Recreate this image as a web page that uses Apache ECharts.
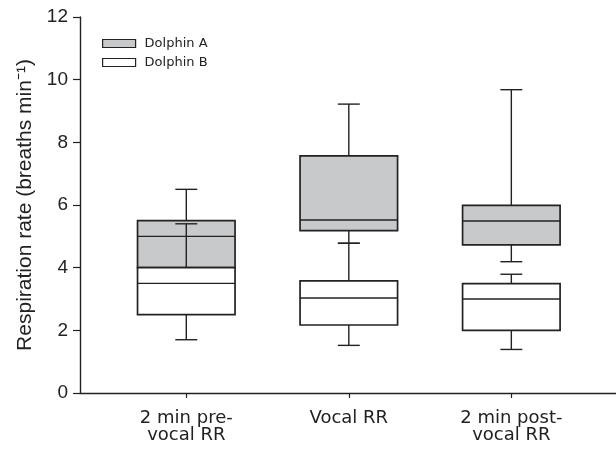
<!DOCTYPE html>
<html>
<head>
<meta charset="utf-8">
<script src="https://cdn.jsdelivr.net/npm/echarts@6/dist/echarts.min.js"></script>
<style>html,body{margin:0;padding:0;background:#fff}#c{width:616px;height:450px}</style>
</head>
<body>
<div id="c"></div>
<script>
var categories = ['2 min pre-\nvocal RR', 'Vocal RR', '2 min post-\nvocal RR'];
var categoryPositions = [1, 2, 3];
// [min, Q1, median, Q3, max]
var dolphinA = [
  [4.0, 4.0, 5.0, 5.5, 6.5],
  [4.78, 5.18, 5.52, 7.57, 9.22],
  [4.19, 4.73, 5.49, 5.99, 9.68]
];
var dolphinB = [
  [1.7, 2.5, 3.5, 4.0, 5.4],
  [1.52, 2.17, 3.03, 3.58, 4.78],
  [1.39, 2.0, 3.0, 3.49, 3.79]
];
var yTicks = [0, 2, 4, 6, 8, 10, 12];
var seriesNames = ['Dolphin A', 'Dolphin B'];

var FONT = 'Liberation Sans, Arial, sans-serif';
var WIDE = 'DejaVu Sans, Liberation Sans, sans-serif';
var INK = '#222';
var BOX_W = 0.6, CAP_W = 0.135;

function toData(arr) {
  return arr.map(function (d, i) { return [categoryPositions[i]].concat(d); });
}

function makeRender(fill) {
  return function (params, api) {
    var x = api.value(0);
    var mn = api.coord([x, api.value(1)]);
    var q1 = api.coord([x, api.value(2)]);
    var md = api.coord([x, api.value(3)]);
    var q3 = api.coord([x, api.value(4)]);
    var mx = api.coord([x, api.value(5)]);
    var left = api.coord([x - BOX_W / 2, 0])[0];
    var right = api.coord([x + BOX_W / 2, 0])[0];
    var cl = api.coord([x - CAP_W / 2, 0])[0];
    var cr = api.coord([x + CAP_W / 2, 0])[0];
    var cx = mn[0];
    var ls = { stroke: INK, lineWidth: 1.4 };
    return {
      type: 'group',
      children: [
        { type: 'line', shape: { x1: cx, y1: q3[1], x2: cx, y2: mx[1] }, style: ls },
        { type: 'line', shape: { x1: cl, y1: mx[1], x2: cr, y2: mx[1] }, style: ls },
        { type: 'line', shape: { x1: cx, y1: q1[1], x2: cx, y2: mn[1] }, style: ls },
        { type: 'line', shape: { x1: cl, y1: mn[1], x2: cr, y2: mn[1] }, style: ls },
        { type: 'rect', shape: { x: left, y: q3[1], width: right - left, height: q1[1] - q3[1] },
          style: { fill: fill, stroke: INK, lineWidth: 1.7 } },
        { type: 'line', shape: { x1: left, y1: md[1], x2: right, y2: md[1] }, style: ls }
      ]
    };
  };
}

var chart = echarts.init(document.getElementById('c'), null, { renderer: 'canvas' });
chart.setOption({
  backgroundColor: '#fff',
  animation: false,
  textStyle: { fontFamily: FONT },
  grid: { left: 80, right: 0, top: 17, bottom: 57, containLabel: false },
  legend: {
    left: 97, top: 32, orient: 'vertical', itemWidth: 33, itemHeight: 8, itemGap: 6,
    icon: 'rect',
    textStyle: { fontFamily: WIDE, fontSize: 13, color: INK, padding: [0, 0, 0, 4] },
    data: [
      { name: seriesNames[0], itemStyle: { color: '#c8c9cb', borderColor: INK, borderWidth: 1.2 } },
      { name: seriesNames[1], itemStyle: { color: '#fff', borderColor: INK, borderWidth: 1.2 } }
    ]
  },
  xAxis: {
    type: 'value', min: 0.346, max: 3.644,
    splitLine: { show: false },
    axisLine: { lineStyle: { color: INK, width: 1.4 } },
    axisTick: { show: true, customValues: categoryPositions, length: 5, lineStyle: { color: INK, width: 1.2 } },
    axisLabel: {
      customValues: categoryPositions, margin: 17, fontSize: 18, color: INK, fontFamily: WIDE, lineHeight: 17,
      formatter: function (v) { return categories[Math.round(v) - 1]; }
    }
  },
  yAxis: {
    type: 'value', min: 0, max: 12, interval: 2,
    name: 'Respiration rate (breaths min\u207B\u00B9)',
    nameLocation: 'middle', nameGap: 42,
    nameTextStyle: { fontSize: 21, color: INK, fontFamily: FONT },
    splitLine: { show: false },
    axisLine: { show: true, lineStyle: { color: INK, width: 1.4 } },
    axisTick: { show: true, length: 7, lineStyle: { color: INK, width: 1.2 } },
    axisLabel: { fontSize: 19, color: INK, margin: 12, fontFamily: FONT,
      customValues: yTicks }
  },
  series: [
    { name: seriesNames[0], type: 'custom', renderItem: makeRender('#c8c9cb'), data: toData(dolphinA),
      itemStyle: { color: '#c8c9cb', borderColor: INK }, z: 2, clip: false,
      encode: { x: 0, y: [1, 2, 3, 4, 5] } },
    { name: seriesNames[1], type: 'custom', renderItem: makeRender('#ffffff'), data: toData(dolphinB),
      itemStyle: { color: '#ffffff', borderColor: INK }, z: 3, clip: false,
      encode: { x: 0, y: [1, 2, 3, 4, 5] } }
  ]
});
</script>
</body>
</html>
